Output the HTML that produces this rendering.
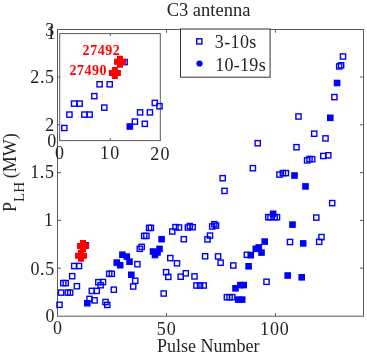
<!DOCTYPE html>
<html><head><meta charset="utf-8"><style>
html,body{margin:0;padding:0;background:#fff;width:367px;height:355px;overflow:hidden}
body{position:relative;font-family:"Liberation Serif", serif}
</style></head><body>
<svg width="367" height="355" viewBox="0 0 367 355" style="position:absolute;left:0;top:0;will-change:transform"><rect width="367" height="355" fill="#fff"/><rect x="57.5" y="29.5" width="306.0" height="286.7" fill="none" stroke="#5a5a5a" stroke-width="1"/><line x1="166.5" y1="316.2" x2="166.5" y2="313.0" stroke="#5a5a5a"/><line x1="166.5" y1="29.5" x2="166.5" y2="32.7" stroke="#5a5a5a"/><line x1="275.5" y1="316.2" x2="275.5" y2="313.0" stroke="#5a5a5a"/><line x1="275.5" y1="29.5" x2="275.5" y2="32.7" stroke="#5a5a5a"/><line x1="57.5" y1="268.2" x2="61.0" y2="268.2" stroke="#5a5a5a"/><line x1="363.5" y1="268.2" x2="360.0" y2="268.2" stroke="#5a5a5a"/><line x1="57.5" y1="220.4" x2="61.0" y2="220.4" stroke="#5a5a5a"/><line x1="363.5" y1="220.4" x2="360.0" y2="220.4" stroke="#5a5a5a"/><line x1="57.5" y1="172.60000000000002" x2="61.0" y2="172.60000000000002" stroke="#5a5a5a"/><line x1="363.5" y1="172.60000000000002" x2="360.0" y2="172.60000000000002" stroke="#5a5a5a"/><line x1="57.5" y1="124.80000000000001" x2="61.0" y2="124.80000000000001" stroke="#5a5a5a"/><line x1="363.5" y1="124.80000000000001" x2="360.0" y2="124.80000000000001" stroke="#5a5a5a"/><line x1="57.5" y1="77.0" x2="61.0" y2="77.0" stroke="#5a5a5a"/><line x1="363.5" y1="77.0" x2="360.0" y2="77.0" stroke="#5a5a5a"/><text x="166.65" y="16.00" font-size="18.5" font-weight="normal" fill="#242424" letter-spacing="0" font-family='"Liberation Serif", serif'>C3 antenna</text><text x="45.55" y="322.15" font-size="18" font-weight="normal" fill="#242424" letter-spacing="0" font-family='"Liberation Serif", serif'>0</text><text x="30.50" y="274.75" font-size="18" font-weight="normal" fill="#242424" letter-spacing="0.6" font-family='"Liberation Serif", serif'>0.5</text><text x="43.95" y="226.10" font-size="18" font-weight="normal" fill="#242424" letter-spacing="0" font-family='"Liberation Serif", serif'>1</text><text x="30.20" y="178.05" font-size="18" font-weight="normal" fill="#242424" letter-spacing="0.6" font-family='"Liberation Serif", serif'>1.5</text><text x="45.15" y="131.10" font-size="18" font-weight="normal" fill="#242424" letter-spacing="0" font-family='"Liberation Serif", serif'>2</text><text x="30.30" y="82.85" font-size="18" font-weight="normal" fill="#242424" letter-spacing="0.6" font-family='"Liberation Serif", serif'>2.5</text><text x="45.20" y="35.60" font-size="18" font-weight="normal" fill="#242424" letter-spacing="0" font-family='"Liberation Serif", serif'>3</text><text x="52.95" y="334.35" font-size="18" font-weight="normal" fill="#242424" letter-spacing="0" font-family='"Liberation Serif", serif'>0</text><text x="156.85" y="334.75" font-size="18" font-weight="normal" fill="#242424" letter-spacing="1" font-family='"Liberation Serif", serif'>50</text><text x="260.10" y="334.75" font-size="18" font-weight="normal" fill="#242424" letter-spacing="0.8" font-family='"Liberation Serif", serif'>100</text><text x="157.00" y="351.95" font-size="18" font-weight="normal" fill="#242424" letter-spacing="0" font-family='"Liberation Serif", serif'>Pulse Number</text><g transform="translate(15.5,212) rotate(-90)"><text x="0" y="0" font-size="18" fill="#242424" font-family='"Liberation Serif", serif'><tspan>P</tspan><tspan font-size="15" dy="8.3">LH</tspan><tspan dy="-8.3" dx="3.8">(MW)</tspan></text></g><rect x="56.90" y="302.20" width="5.20" height="5.20" fill="none" stroke="#0000ff" stroke-width="1.4"/><rect x="58.50" y="290.00" width="5.20" height="5.20" fill="none" stroke="#0000ff" stroke-width="1.4"/><rect x="60.70" y="280.50" width="5.20" height="5.20" fill="none" stroke="#0000ff" stroke-width="1.4"/><rect x="63.10" y="280.50" width="5.20" height="5.20" fill="none" stroke="#0000ff" stroke-width="1.4"/><rect x="65.20" y="290.00" width="5.20" height="5.20" fill="none" stroke="#0000ff" stroke-width="1.4"/><rect x="67.60" y="290.00" width="5.20" height="5.20" fill="none" stroke="#0000ff" stroke-width="1.4"/><rect x="69.60" y="273.60" width="5.20" height="5.20" fill="none" stroke="#0000ff" stroke-width="1.4"/><rect x="71.60" y="263.40" width="5.20" height="5.20" fill="none" stroke="#0000ff" stroke-width="1.4"/><rect x="74.30" y="283.60" width="5.20" height="5.20" fill="none" stroke="#0000ff" stroke-width="1.4"/><rect x="76.40" y="263.40" width="5.20" height="5.20" fill="none" stroke="#0000ff" stroke-width="1.4"/><rect x="83.20" y="242.70" width="5.20" height="5.20" fill="none" stroke="#0000ff" stroke-width="1.4"/><rect x="86.90" y="296.30" width="5.20" height="5.20" fill="none" stroke="#0000ff" stroke-width="1.4"/><rect x="89.20" y="288.30" width="5.20" height="5.20" fill="none" stroke="#0000ff" stroke-width="1.4"/><rect x="92.00" y="297.80" width="5.20" height="5.20" fill="none" stroke="#0000ff" stroke-width="1.4"/><rect x="94.10" y="288.30" width="5.20" height="5.20" fill="none" stroke="#0000ff" stroke-width="1.4"/><rect x="95.70" y="279.60" width="5.20" height="5.20" fill="none" stroke="#0000ff" stroke-width="1.4"/><rect x="98.00" y="282.60" width="5.20" height="5.20" fill="none" stroke="#0000ff" stroke-width="1.4"/><rect x="100.40" y="279.40" width="5.20" height="5.20" fill="none" stroke="#0000ff" stroke-width="1.4"/><rect x="102.90" y="299.40" width="5.20" height="5.20" fill="none" stroke="#0000ff" stroke-width="1.4"/><rect x="104.70" y="302.30" width="5.20" height="5.20" fill="none" stroke="#0000ff" stroke-width="1.4"/><rect x="106.60" y="271.20" width="5.20" height="5.20" fill="none" stroke="#0000ff" stroke-width="1.4"/><rect x="109.20" y="271.20" width="5.20" height="5.20" fill="none" stroke="#0000ff" stroke-width="1.4"/><rect x="111.20" y="287.10" width="5.20" height="5.20" fill="none" stroke="#0000ff" stroke-width="1.4"/><rect x="130.60" y="283.90" width="5.20" height="5.20" fill="none" stroke="#0000ff" stroke-width="1.4"/><rect x="132.60" y="278.20" width="5.20" height="5.20" fill="none" stroke="#0000ff" stroke-width="1.4"/><rect x="134.80" y="261.60" width="5.20" height="5.20" fill="none" stroke="#0000ff" stroke-width="1.4"/><rect x="137.20" y="246.20" width="5.20" height="5.20" fill="none" stroke="#0000ff" stroke-width="1.4"/><rect x="139.10" y="244.30" width="5.20" height="5.20" fill="none" stroke="#0000ff" stroke-width="1.4"/><rect x="141.60" y="233.30" width="5.20" height="5.20" fill="none" stroke="#0000ff" stroke-width="1.4"/><rect x="143.80" y="233.30" width="5.20" height="5.20" fill="none" stroke="#0000ff" stroke-width="1.4"/><rect x="146.50" y="225.30" width="5.20" height="5.20" fill="none" stroke="#0000ff" stroke-width="1.4"/><rect x="148.30" y="225.30" width="5.20" height="5.20" fill="none" stroke="#0000ff" stroke-width="1.4"/><rect x="161.10" y="290.90" width="5.20" height="5.20" fill="none" stroke="#0000ff" stroke-width="1.4"/><rect x="163.50" y="269.60" width="5.20" height="5.20" fill="none" stroke="#0000ff" stroke-width="1.4"/><rect x="165.70" y="274.30" width="5.20" height="5.20" fill="none" stroke="#0000ff" stroke-width="1.4"/><rect x="167.70" y="255.50" width="5.20" height="5.20" fill="none" stroke="#0000ff" stroke-width="1.4"/><rect x="169.70" y="228.90" width="5.20" height="5.20" fill="none" stroke="#0000ff" stroke-width="1.4"/><rect x="172.90" y="224.50" width="5.20" height="5.20" fill="none" stroke="#0000ff" stroke-width="1.4"/><rect x="174.40" y="260.70" width="5.20" height="5.20" fill="none" stroke="#0000ff" stroke-width="1.4"/><rect x="176.40" y="224.90" width="5.20" height="5.20" fill="none" stroke="#0000ff" stroke-width="1.4"/><rect x="178.10" y="274.10" width="5.20" height="5.20" fill="none" stroke="#0000ff" stroke-width="1.4"/><rect x="181.20" y="236.60" width="5.20" height="5.20" fill="none" stroke="#0000ff" stroke-width="1.4"/><rect x="183.20" y="270.70" width="5.20" height="5.20" fill="none" stroke="#0000ff" stroke-width="1.4"/><rect x="185.30" y="224.90" width="5.20" height="5.20" fill="none" stroke="#0000ff" stroke-width="1.4"/><rect x="187.20" y="223.50" width="5.20" height="5.20" fill="none" stroke="#0000ff" stroke-width="1.4"/><rect x="190.00" y="224.60" width="5.20" height="5.20" fill="none" stroke="#0000ff" stroke-width="1.4"/><rect x="191.90" y="273.80" width="5.20" height="5.20" fill="none" stroke="#0000ff" stroke-width="1.4"/><rect x="193.80" y="282.90" width="5.20" height="5.20" fill="none" stroke="#0000ff" stroke-width="1.4"/><rect x="197.40" y="282.90" width="5.20" height="5.20" fill="none" stroke="#0000ff" stroke-width="1.4"/><rect x="201.10" y="282.90" width="5.20" height="5.20" fill="none" stroke="#0000ff" stroke-width="1.4"/><rect x="202.50" y="253.70" width="5.20" height="5.20" fill="none" stroke="#0000ff" stroke-width="1.4"/><rect x="204.90" y="236.80" width="5.20" height="5.20" fill="none" stroke="#0000ff" stroke-width="1.4"/><rect x="207.40" y="233.00" width="5.20" height="5.20" fill="none" stroke="#0000ff" stroke-width="1.4"/><rect x="209.60" y="223.90" width="5.20" height="5.20" fill="none" stroke="#0000ff" stroke-width="1.4"/><rect x="211.70" y="221.60" width="5.20" height="5.20" fill="none" stroke="#0000ff" stroke-width="1.4"/><rect x="213.40" y="223.00" width="5.20" height="5.20" fill="none" stroke="#0000ff" stroke-width="1.4"/><rect x="215.50" y="253.80" width="5.20" height="5.20" fill="none" stroke="#0000ff" stroke-width="1.4"/><rect x="218.00" y="260.10" width="5.20" height="5.20" fill="none" stroke="#0000ff" stroke-width="1.4"/><rect x="220.10" y="175.60" width="5.20" height="5.20" fill="none" stroke="#0000ff" stroke-width="1.4"/><rect x="221.90" y="188.30" width="5.20" height="5.20" fill="none" stroke="#0000ff" stroke-width="1.4"/><rect x="224.30" y="294.60" width="5.20" height="5.20" fill="none" stroke="#0000ff" stroke-width="1.4"/><rect x="227.00" y="294.60" width="5.20" height="5.20" fill="none" stroke="#0000ff" stroke-width="1.4"/><rect x="229.60" y="294.60" width="5.20" height="5.20" fill="none" stroke="#0000ff" stroke-width="1.4"/><rect x="230.70" y="262.90" width="5.20" height="5.20" fill="none" stroke="#0000ff" stroke-width="1.4"/><rect x="244.30" y="252.20" width="5.20" height="5.20" fill="none" stroke="#0000ff" stroke-width="1.4"/><rect x="250.30" y="165.60" width="5.20" height="5.20" fill="none" stroke="#0000ff" stroke-width="1.4"/><rect x="255.10" y="140.60" width="5.20" height="5.20" fill="none" stroke="#0000ff" stroke-width="1.4"/><rect x="263.90" y="279.20" width="5.20" height="5.20" fill="none" stroke="#0000ff" stroke-width="1.4"/><rect x="265.70" y="214.60" width="5.20" height="5.20" fill="none" stroke="#0000ff" stroke-width="1.4"/><rect x="267.90" y="214.60" width="5.20" height="5.20" fill="none" stroke="#0000ff" stroke-width="1.4"/><rect x="272.00" y="214.60" width="5.20" height="5.20" fill="none" stroke="#0000ff" stroke-width="1.4"/><rect x="274.40" y="214.60" width="5.20" height="5.20" fill="none" stroke="#0000ff" stroke-width="1.4"/><rect x="276.90" y="172.00" width="5.20" height="5.20" fill="none" stroke="#0000ff" stroke-width="1.4"/><rect x="280.30" y="170.50" width="5.20" height="5.20" fill="none" stroke="#0000ff" stroke-width="1.4"/><rect x="283.30" y="170.50" width="5.20" height="5.20" fill="none" stroke="#0000ff" stroke-width="1.4"/><rect x="287.40" y="239.40" width="5.20" height="5.20" fill="none" stroke="#0000ff" stroke-width="1.4"/><rect x="293.90" y="144.60" width="5.20" height="5.20" fill="none" stroke="#0000ff" stroke-width="1.4"/><rect x="295.90" y="113.90" width="5.20" height="5.20" fill="none" stroke="#0000ff" stroke-width="1.4"/><rect x="304.50" y="157.80" width="5.20" height="5.20" fill="none" stroke="#0000ff" stroke-width="1.4"/><rect x="306.90" y="156.40" width="5.20" height="5.20" fill="none" stroke="#0000ff" stroke-width="1.4"/><rect x="309.60" y="156.60" width="5.20" height="5.20" fill="none" stroke="#0000ff" stroke-width="1.4"/><rect x="311.60" y="131.10" width="5.20" height="5.20" fill="none" stroke="#0000ff" stroke-width="1.4"/><rect x="313.70" y="215.00" width="5.20" height="5.20" fill="none" stroke="#0000ff" stroke-width="1.4"/><rect x="316.60" y="239.20" width="5.20" height="5.20" fill="none" stroke="#0000ff" stroke-width="1.4"/><rect x="318.90" y="234.50" width="5.20" height="5.20" fill="none" stroke="#0000ff" stroke-width="1.4"/><rect x="320.70" y="153.40" width="5.20" height="5.20" fill="none" stroke="#0000ff" stroke-width="1.4"/><rect x="325.70" y="152.70" width="5.20" height="5.20" fill="none" stroke="#0000ff" stroke-width="1.4"/><rect x="322.90" y="135.80" width="5.20" height="5.20" fill="none" stroke="#0000ff" stroke-width="1.4"/><rect x="329.60" y="200.50" width="5.20" height="5.20" fill="none" stroke="#0000ff" stroke-width="1.4"/><rect x="331.80" y="94.50" width="5.20" height="5.20" fill="none" stroke="#0000ff" stroke-width="1.4"/><rect x="336.60" y="63.80" width="5.20" height="5.20" fill="none" stroke="#0000ff" stroke-width="1.4"/><rect x="338.50" y="62.70" width="5.20" height="5.20" fill="none" stroke="#0000ff" stroke-width="1.4"/><rect x="340.40" y="53.90" width="5.20" height="5.20" fill="none" stroke="#0000ff" stroke-width="1.4"/><rect x="84.00" y="299.90" width="6.60" height="6.60" fill="#0000ff"/><rect x="113.40" y="259.30" width="6.60" height="6.60" fill="#0000ff"/><rect x="116.90" y="261.90" width="6.60" height="6.60" fill="#0000ff"/><rect x="119.10" y="251.40" width="6.60" height="6.60" fill="#0000ff"/><rect x="123.50" y="253.30" width="6.60" height="6.60" fill="#0000ff"/><rect x="126.20" y="258.40" width="6.60" height="6.60" fill="#0000ff"/><rect x="128.00" y="271.50" width="6.60" height="6.60" fill="#0000ff"/><rect x="149.70" y="248.20" width="6.60" height="6.60" fill="#0000ff"/><rect x="151.70" y="251.70" width="6.60" height="6.60" fill="#0000ff"/><rect x="154.20" y="249.20" width="6.60" height="6.60" fill="#0000ff"/><rect x="156.20" y="245.60" width="6.60" height="6.60" fill="#0000ff"/><rect x="158.30" y="235.90" width="6.60" height="6.60" fill="#0000ff"/><rect x="232.20" y="285.00" width="6.60" height="6.60" fill="#0000ff"/><rect x="234.90" y="296.30" width="6.60" height="6.60" fill="#0000ff"/><rect x="238.90" y="296.30" width="6.60" height="6.60" fill="#0000ff"/><rect x="237.10" y="281.80" width="6.60" height="6.60" fill="#0000ff"/><rect x="240.40" y="281.80" width="6.60" height="6.60" fill="#0000ff"/><rect x="245.30" y="263.00" width="6.60" height="6.60" fill="#0000ff"/><rect x="247.40" y="251.90" width="6.60" height="6.60" fill="#0000ff"/><rect x="252.50" y="245.50" width="6.60" height="6.60" fill="#0000ff"/><rect x="255.50" y="244.10" width="6.60" height="6.60" fill="#0000ff"/><rect x="258.20" y="249.30" width="6.60" height="6.60" fill="#0000ff"/><rect x="261.40" y="238.30" width="6.60" height="6.60" fill="#0000ff"/><rect x="269.80" y="210.50" width="6.60" height="6.60" fill="#0000ff"/><rect x="284.40" y="272.20" width="6.60" height="6.60" fill="#0000ff"/><rect x="289.20" y="221.30" width="6.60" height="6.60" fill="#0000ff"/><rect x="291.20" y="172.20" width="6.60" height="6.60" fill="#0000ff"/><rect x="298.40" y="274.00" width="6.60" height="6.60" fill="#0000ff"/><rect x="299.90" y="240.10" width="6.60" height="6.60" fill="#0000ff"/><rect x="302.20" y="183.10" width="6.60" height="6.60" fill="#0000ff"/><rect x="327.00" y="114.50" width="6.60" height="6.60" fill="#0000ff"/><rect x="333.80" y="79.70" width="6.60" height="6.60" fill="#0000ff"/><path d="M78.00 249.70h6v3h3v6h-3v3h-6v-3h-3v-6h3z" fill="#ff0000"/><path d="M80.00 240.10h6v3h3v6h-3v3h-6v-3h-3v-6h3z" fill="#ff0000"/><rect x="180.5" y="29" width="89.6" height="48.2" fill="#fff" stroke="#333" stroke-width="1"/><rect x="196.70" y="38.80" width="5.20" height="5.20" fill="none" stroke="#0000ff" stroke-width="1.4"/><circle cx="199.5" cy="63.5" r="3.1" fill="#0000ff"/><text x="214.75" y="48.20" font-size="18" font-weight="normal" fill="#242424" letter-spacing="0.4" font-family='"Liberation Serif", serif'>3-10s</text><text x="215.15" y="70.80" font-size="18" font-weight="normal" fill="#242424" letter-spacing="0.3" font-family='"Liberation Serif", serif'>10-19s</text><rect x="59.7" y="33.6" width="100.60000000000001" height="107.0" fill="#fff" stroke="#5a5a5a" stroke-width="1"/><line x1="110.3" y1="140.6" x2="110.3" y2="138.1" stroke="#5a5a5a"/><line x1="110.3" y1="33.6" x2="110.3" y2="36.1" stroke="#5a5a5a"/><text x="47.35" y="147.05" font-size="18" font-weight="normal" fill="#242424" letter-spacing="0" font-family='"Liberation Serif", serif'>0</text><text x="46.50" y="39.00" font-size="18" font-weight="normal" fill="#242424" letter-spacing="0" font-family='"Liberation Serif", serif'>1</text><text x="54.95" y="159.40" font-size="18" font-weight="normal" fill="#242424" letter-spacing="0" font-family='"Liberation Serif", serif'>0</text><text x="99.95" y="159.40" font-size="18" font-weight="normal" fill="#242424" letter-spacing="1.2" font-family='"Liberation Serif", serif'>10</text><text x="150.35" y="159.60" font-size="18" font-weight="normal" fill="#242424" letter-spacing="1.2" font-family='"Liberation Serif", serif'>20</text><rect x="61.70" y="125.40" width="5.20" height="5.20" fill="none" stroke="#0000ff" stroke-width="1.4"/><rect x="66.83" y="112.00" width="5.20" height="5.20" fill="none" stroke="#0000ff" stroke-width="1.4"/><rect x="71.50" y="101.00" width="5.20" height="5.20" fill="none" stroke="#0000ff" stroke-width="1.4"/><rect x="77.10" y="101.00" width="5.20" height="5.20" fill="none" stroke="#0000ff" stroke-width="1.4"/><rect x="81.80" y="112.00" width="5.20" height="5.20" fill="none" stroke="#0000ff" stroke-width="1.4"/><rect x="87.00" y="112.00" width="5.20" height="5.20" fill="none" stroke="#0000ff" stroke-width="1.4"/><rect x="91.70" y="93.55" width="5.20" height="5.20" fill="none" stroke="#0000ff" stroke-width="1.4"/><rect x="97.00" y="81.70" width="5.20" height="5.20" fill="none" stroke="#0000ff" stroke-width="1.4"/><rect x="101.70" y="105.00" width="5.20" height="5.20" fill="none" stroke="#0000ff" stroke-width="1.4"/><rect x="107.10" y="81.70" width="5.20" height="5.20" fill="none" stroke="#0000ff" stroke-width="1.4"/><rect x="122.00" y="59.50" width="5.20" height="5.20" fill="none" stroke="#0000ff" stroke-width="1.4"/><rect x="132.30" y="119.00" width="5.20" height="5.20" fill="none" stroke="#0000ff" stroke-width="1.4"/><rect x="137.50" y="109.80" width="5.20" height="5.20" fill="none" stroke="#0000ff" stroke-width="1.4"/><rect x="142.20" y="121.20" width="5.20" height="5.20" fill="none" stroke="#0000ff" stroke-width="1.4"/><rect x="147.30" y="109.80" width="5.20" height="5.20" fill="none" stroke="#0000ff" stroke-width="1.4"/><rect x="152.20" y="100.30" width="5.20" height="5.20" fill="none" stroke="#0000ff" stroke-width="1.4"/><rect x="156.90" y="103.60" width="5.20" height="5.20" fill="none" stroke="#0000ff" stroke-width="1.4"/><rect x="126.50" y="123.20" width="6.60" height="6.60" fill="#0000ff"/><path d="M111.90 66.95h6v3h3v6h-3v3h-6v-3h-3v-6h3z" fill="#ff0000"/><path d="M117.00 55.80h6v3h3v6h-3v3h-6v-3h-3v-6h3z" fill="#ff0000"/><text x="82.60" y="54.85" font-size="14" font-weight="bold" fill="#ff0000" letter-spacing="0.55" font-family='"Liberation Serif", serif'>27492</text><text x="69.40" y="75.30" font-size="14" font-weight="bold" fill="#ff0000" letter-spacing="0.55" font-family='"Liberation Serif", serif'>27490</text></svg>
</body></html>
